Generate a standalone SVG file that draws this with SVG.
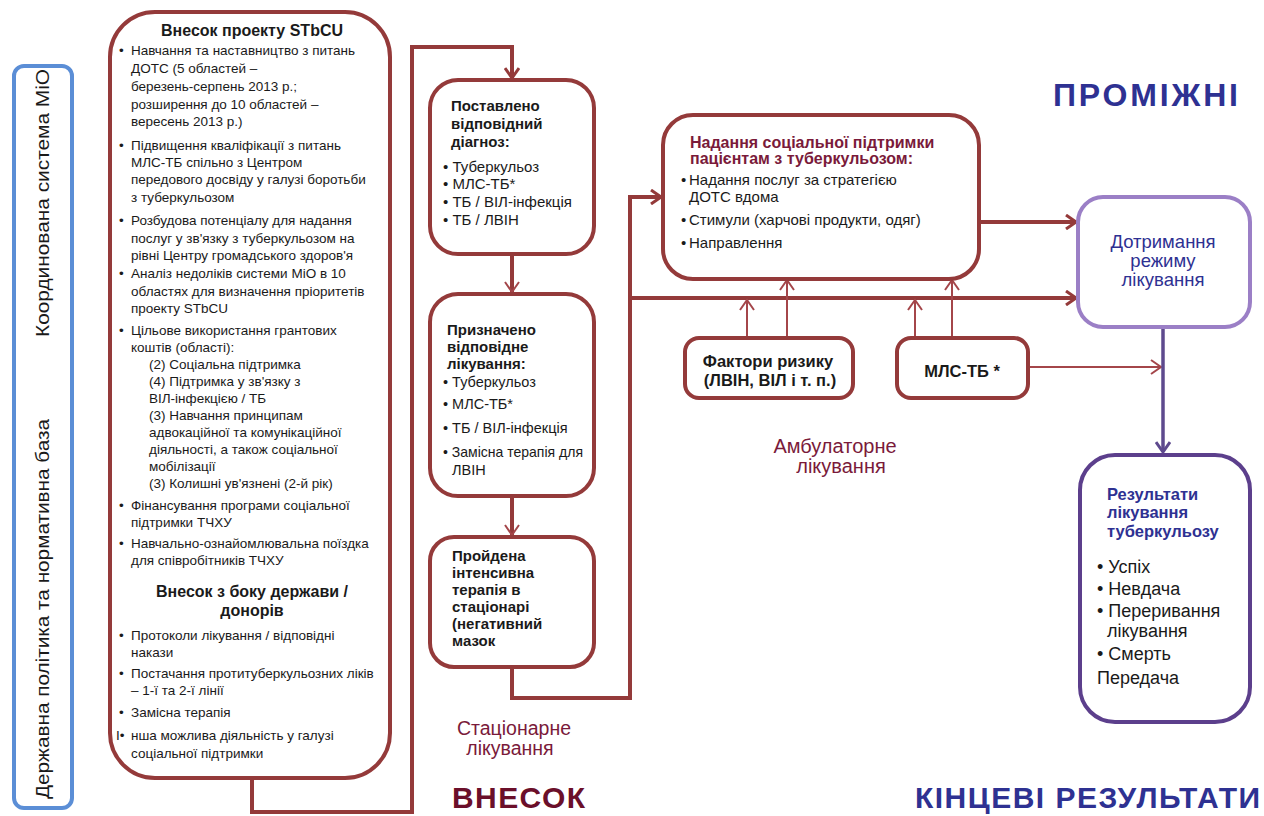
<svg xmlns="http://www.w3.org/2000/svg" width="1264" height="816" viewBox="0 0 1264 816">
<defs>
<style>
text{font-family:"Liberation Sans",Arial,sans-serif;fill:#1a1a1a}
.b{font-weight:bold}
.body{font-size:13.5px}
.nb{font-size:15px}
.rbox{fill:#fff;stroke:#943a3a;stroke-width:4}
.conn{fill:none;stroke:#943a3a;stroke-width:4}
.thin{fill:none;stroke:#a4464a;stroke-width:2}
.maroon{fill:#7a1a3a}
.navy{fill:#2e3192}
</style>
<marker id="ah" viewBox="0 0 14 16" refX="12" refY="8" markerWidth="14" markerHeight="16" orient="auto" markerUnits="userSpaceOnUse">
<path d="M2,1 L12,8 L2,15" fill="none" stroke="#943a3a" stroke-width="3"/>
</marker>
<marker id="aht" viewBox="0 0 14 16" refX="12" refY="8" markerWidth="14" markerHeight="16" orient="auto" markerUnits="userSpaceOnUse">
<path d="M2,1 L12,8 L2,15" fill="none" stroke="#a4464a" stroke-width="2"/>
</marker>
<marker id="ahp" viewBox="0 0 14 16" refX="12" refY="8" markerWidth="14" markerHeight="16" orient="auto" markerUnits="userSpaceOnUse">
<path d="M2,1 L12,8 L2,15" fill="none" stroke="#5e4a8e" stroke-width="3"/>
</marker>
</defs>
<rect width="1264" height="816" fill="#fff"/>

<g id="connectors">
<path class="conn" d="M252,778 V812 H412 V47 H512 V78" marker-end="url(#ah)"/>
<path class="conn" d="M512,254 V292" stroke-width="2.5" marker-end="url(#aht)"/>
<path class="conn" d="M512,496 V535" stroke-width="2.5" marker-end="url(#aht)"/>
<path class="conn" d="M512,667 V698 H630 V197 H661" marker-end="url(#ah)"/>
<path class="conn" d="M630,298 H1076" marker-end="url(#ah)"/>
<path class="conn" d="M979,222 H1076" marker-end="url(#ah)"/>
<path class="thin" d="M747,338 V300" marker-end="url(#aht)"/>
<path class="thin" d="M787,338 V280" marker-end="url(#aht)"/>
<path class="thin" d="M915,338 V300" marker-end="url(#aht)"/>
<path class="thin" d="M952,338 V280" marker-end="url(#aht)"/>
<path class="thin" d="M1028,367 H1161" marker-end="url(#aht)"/>
<path d="M1163,327 V452" fill="none" stroke="#5e4a8e" stroke-width="3.5" marker-end="url(#ahp)"/>
</g>

<g id="side-frame">
<rect x="14" y="66" width="58" height="742" rx="10" fill="#fff" stroke="#5b8ed6" stroke-width="4"/>
<text transform="translate(49,203) rotate(-90)" text-anchor="middle" font-size="18" textLength="268" lengthAdjust="spacingAndGlyphs">Координована система МіО</text>
<text transform="translate(49,609) rotate(-90)" text-anchor="middle" font-size="18" textLength="380" lengthAdjust="spacingAndGlyphs">Державна політика та нормативна база</text>
</g>

<g id="inputs">
<rect class="rbox" x="110" y="12" width="280" height="766" rx="45"/>
<text class="b" x="252" y="36" text-anchor="middle" font-size="16">Внесок проекту STbCU</text>
<g class="body">
<text x="119" y="55">•</text>
<text x="131" y="55">Навчання та наставництво з питань</text>
<text x="131" y="73">ДОТС (5 областей –</text>
<text x="131" y="91">березень-серпень 2013 р.;</text>
<text x="131" y="109">розширення до 10 областей –</text>
<text x="131" y="126">вересень 2013 р.)</text>
<text x="119" y="150">•</text>
<text x="131" y="150">Підвищення кваліфікації з питань</text>
<text x="131" y="167">МЛС-ТБ спільно з Центром</text>
<text x="131" y="184">передового досвіду у галузі боротьби</text>
<text x="131" y="202">з туберкульозом</text>
<text x="119" y="225">•</text>
<text x="131" y="225">Розбудова потенціалу для надання</text>
<text x="131" y="243">послуг у зв'язку з туберкульозом на</text>
<text x="131" y="260">рівні Центру громадського здоров'я</text>
<text x="119" y="278">•</text>
<text x="131" y="278">Аналіз недоліків системи МіО в 10</text>
<text x="131" y="296">областях для визначення пріоритетів</text>
<text x="131" y="313">проекту STbCU</text>
<text x="119" y="335">•</text>
<text x="131" y="335">Цільове використання грантових</text>
<text x="131" y="352">коштів (області):</text>
<text x="149" y="369">(2) Соціальна підтримка</text>
<text x="149" y="386">(4) Підтримка у зв'язку з</text>
<text x="149" y="403">ВІЛ-інфекцією / ТБ</text>
<text x="149" y="420">(3) Навчання принципам</text>
<text x="149" y="437">адвокаційної та комунікаційної</text>
<text x="149" y="454">діяльності, а також соціальної</text>
<text x="149" y="471">мобілізації</text>
<text x="149" y="488">(3) Колишні ув'язнені (2-й рік)</text>
<text x="119" y="510">•</text>
<text x="131" y="510">Фінансування програми соціальної</text>
<text x="131" y="527">підтримки ТЧХУ</text>
<text x="119" y="548">•</text>
<text x="131" y="548">Навчально-ознайомлювальна поїздка</text>
<text x="131" y="565">для співробітників ТЧХУ</text>
</g>
<text class="b" x="252" y="597" text-anchor="middle" font-size="16">Внесок з боку держави /</text>
<text class="b" x="252" y="616" text-anchor="middle" font-size="16">донорів</text>
<g class="body">
<text x="119" y="640">•</text>
<text x="131" y="640">Протоколи лікування / відповідні</text>
<text x="131" y="657">накази</text>
<text x="119" y="678">•</text>
<text x="131" y="678">Постачання протитуберкульозних ліків</text>
<text x="131" y="695">– 1-ї та 2-ї лінії</text>
<text x="119" y="717">•</text>
<text x="131" y="717">Замісна терапія</text>
<text x="116" y="740">І•</text>
<text x="131" y="740">нша можлива діяльність у галузі</text>
<text x="131" y="758">соціальної підтримки</text>
</g>
</g>

<g id="diagnosis">
<rect class="rbox" x="430" y="80" width="164" height="174" rx="28"/>
<g class="b" font-size="15">
<text x="451" y="111">Поставлено</text>
<text x="451" y="129">відповідний</text>
<text x="451" y="147">діагноз:</text>
</g>
<g class="nb">
<text x="443" y="172">• Туберкульоз</text>
<text x="443" y="189">• МЛС-ТБ*</text>
<text x="443" y="207">• ТБ / ВІЛ-інфекція</text>
<text x="443" y="225">• ТБ / ЛВІН</text>
</g>
</g>

<g id="treatment">
<rect class="rbox" x="430" y="294" width="164" height="202" rx="28"/>
<g class="b" font-size="15">
<text x="447" y="335">Призначено</text>
<text x="447" y="352">відповідне</text>
<text x="447" y="369">лікування:</text>
</g>
<g font-size="14.5">
<text x="443" y="387">• Туберкульоз</text>
<text x="443" y="409">• МЛС-ТБ*</text>
<text x="443" y="433">• ТБ / ВІЛ-інфекція</text>
<text x="443" y="457" textLength="140" lengthAdjust="spacingAndGlyphs">• Замісна терапія для</text>
<text x="452" y="475">ЛВІН</text>
</g>
</g>

<g id="intensive">
<rect class="rbox" x="430" y="537" width="164" height="130" rx="24"/>
<g class="b" font-size="15">
<text x="452" y="561">Пройдена</text>
<text x="452" y="578">інтенсивна</text>
<text x="452" y="595">терапія в</text>
<text x="452" y="612">стаціонарі</text>
<text x="452" y="629">(негативний</text>
<text x="452" y="646">мазок</text>
</g>
</g>

<g id="social-support">
<rect class="rbox" x="663" y="115" width="316" height="164" rx="30"/>
<text class="b maroon" x="690" y="148" font-size="16">Надання соціальної підтримки</text>
<text class="b maroon" x="690" y="164" font-size="16">пацієнтам з туберкульозом:</text>
<g font-size="15">
<text x="681" y="185">•</text>
<text x="689" y="185">Надання послуг за стратегією</text>
<text x="689" y="202">ДОТС вдома</text>
<text x="681" y="225">•</text>
<text x="689" y="225">Стимули (харчові продукти, одяг)</text>
<text x="681" y="248">•</text>
<text x="689" y="248">Направлення</text>
</g>
</g>

<g id="risk-factors">
<rect class="rbox" x="685" y="338" width="168" height="60" rx="14"/>
<text class="b" x="768" y="367" text-anchor="middle" font-size="16.5">Фактори ризику</text>
<text class="b" x="770" y="386" text-anchor="middle" font-size="16.5">(ЛВІН, ВІЛ і т. п.)</text>
</g>

<g id="mdr-tb">
<rect class="rbox" x="897" y="338" width="131" height="60" rx="14"/>
<text class="b" x="962" y="377" text-anchor="middle" font-size="16.5">МЛС-ТБ *</text>
</g>

<g id="adherence">
<rect x="1078" y="197" width="172" height="130" rx="25" fill="#fff" stroke="#9b7fc6" stroke-width="4"/>
<g font-size="18.5" text-anchor="middle">
<text class="navy" x="1163" y="248">Дотримання</text>
<text class="navy" x="1163" y="267">режиму</text>
<text class="navy" x="1163" y="286">лікування</text>
</g>
</g>

<g id="outcomes">
<rect x="1080" y="455" width="170" height="267" rx="35" fill="#fff" stroke="#5c3f8c" stroke-width="4"/>
<g class="b" font-size="16.5">
<text class="navy" x="1107" y="500">Результати</text>
<text class="navy" x="1107" y="518">лікування</text>
<text class="navy" x="1107" y="537">туберкульозу</text>
</g>
<g font-size="18">
<text x="1097" y="573">• Успіх</text>
<text x="1097" y="595">• Невдача</text>
<text x="1097" y="617">• Переривання</text>
<text x="1107" y="637">лікування</text>
<text x="1097" y="660">• Смерть</text>
<text x="1097" y="684">Передача</text>
</g>
</g>

<g id="labels">
<text class="maroon" x="835" y="453" text-anchor="middle" font-size="20">Амбулаторне</text>
<text class="maroon" x="841" y="473" text-anchor="middle" font-size="20">лікування</text>
<text class="maroon" x="514" y="735" text-anchor="middle" font-size="19.5">Стаціонарне</text>
<text class="maroon" x="510" y="755" text-anchor="middle" font-size="19.5">лікування</text>
<text class="b" x="452" y="808" font-size="30" textLength="133" style="fill:#6b0f2a">ВНЕСОК</text>
<text class="b navy" x="1053" y="106" font-size="32" textLength="185">ПРОМІЖНІ</text>
<text class="b navy" x="915" y="808" font-size="30" textLength="345">КІНЦЕВІ РЕЗУЛЬТАТИ</text>
</g>
</svg>
